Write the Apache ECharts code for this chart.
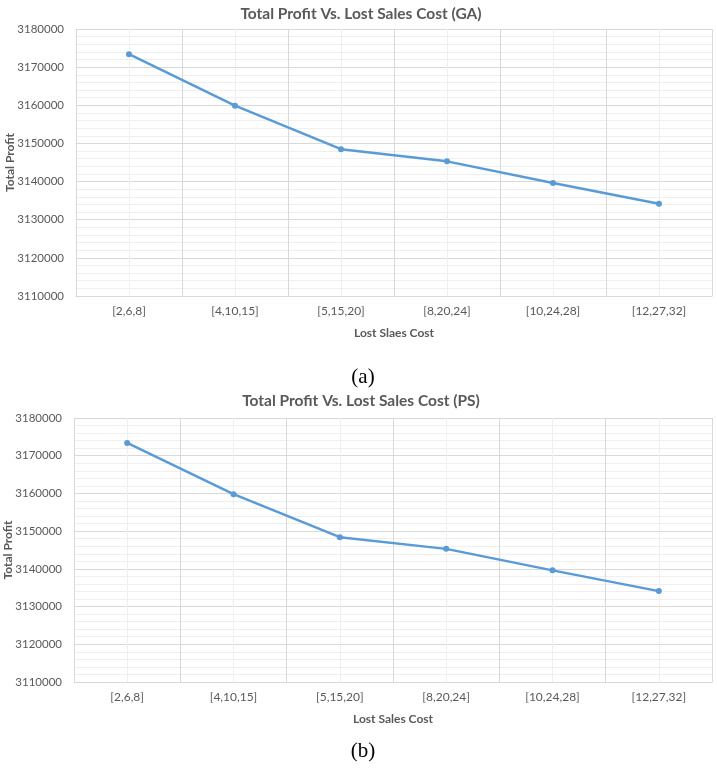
<!DOCTYPE html>
<html>
<head>
<meta charset="utf-8">
<script src="https://cdn.jsdelivr.net/npm/echarts@6/dist/echarts.min.js"></script>
<style>
html,body{margin:0;padding:0;background:#fff;}
#chart{width:717px;height:778px;}
</style>
</head>
<body>
<div id="chart"></div>
<script>
const categories = ['[2,6,8]', '[4,10,15]', '[5,15,20]', '[8,20,24]', '[10,24,28]', '[12,27,32]'];
const profitGA = [3173400, 3159900, 3148500, 3145300, 3139600, 3134200];
const profitPS = [3173400, 3159800, 3148400, 3145300, 3139600, 3134100];
const yTicks = { min: 3110000, max: 3180000, interval: 10000 };
const titles = ['Total Profit Vs. Lost Sales Cost (GA)', 'Total Profit Vs. Lost Sales Cost (PS)'];
const xNames = ['Lost Slaes Cost', 'Lost Sales Cost'];
const yName = 'Total Profit';
const captions = ['(a)', '(b)'];

const FONT = 'Lato';
const TXT = '#595959';
const LINE = '#5B9BD5';

const grids = [
  { left: 76, right: 5, top: 29, height: 267, outerBoundsMode: 'none', containLabel: false },
  { left: 74, right: 5, top: 418, height: 264, outerBoundsMode: 'none', containLabel: false }
];

const xAxes = [], yAxes = [], series = [];
[0, 1].forEach(i => {
  xAxes.push({
    type: 'category', gridIndex: i, data: categories, boundaryGap: true,
    axisLine: { show: true, lineStyle: { color: '#d9d9d9', width: 1 } },
    axisTick: { show: false },
    axisLabel: { color: TXT, fontFamily: FONT, fontSize: 12, margin: 9 },
    splitLine: { show: true, lineStyle: { color: '#d9d9d9', width: 1 } },
    name: xNames[i], nameLocation: 'middle', nameGap: 31, nameMoveOverlap: false,
    nameTextStyle: { color: TXT, fontFamily: FONT, fontSize: 12, fontWeight: 'bold' },
    z: 3
  });
  xAxes.push({
    type: 'value', gridIndex: i, min: 0, max: 12, interval: 1, show: true,
    axisLine: { show: false }, axisTick: { show: false }, axisLabel: { show: false },
    splitLine: { show: true, lineStyle: { color: '#efefef', width: 1 } },
    z: 1
  });
  yAxes.push({
    type: 'value', gridIndex: i, min: yTicks.min, max: yTicks.max, interval: yTicks.interval,
    axisLine: { show: false }, axisTick: { show: false },
    axisLabel: { color: TXT, fontFamily: FONT, fontSize: 11.5, margin: 12, formatter: v => String(v) },
    splitLine: { show: true, lineStyle: { color: '#d9d9d9', width: 1 } },
    minorTick: { show: false, splitNumber: 5 },
    minorSplitLine: { show: true, lineStyle: { color: '#efefef', width: 1 } },
    name: yName, nameLocation: 'middle', nameGap: 60, nameMoveOverlap: false,
    nameTextStyle: { color: TXT, fontFamily: FONT, fontSize: 12, fontWeight: 'bold' }
  });
  series.push({
    type: 'line', xAxisIndex: i * 2, yAxisIndex: i,
    data: i === 0 ? profitGA : profitPS,
    symbol: 'circle', symbolSize: 6,
    itemStyle: { color: LINE },
    lineStyle: { color: LINE, width: 2.5 },
    z: 5
  });
});

const chart = echarts.init(document.getElementById('chart'), null, { renderer: 'canvas' });
chart.setOption({
  backgroundColor: '#fff',
  animation: false,
  title: [
    { text: titles[0], left: 356, top: 1, textAlign: 'center',
      textStyle: { color: TXT, fontFamily: FONT, fontSize: 15.5, fontWeight: 'bold' } },
    { text: titles[1], left: 356, top: 388, textAlign: 'center',
      textStyle: { color: TXT, fontFamily: FONT, fontSize: 15.5, fontWeight: 'bold' } },
    { text: captions[0], left: 358, top: 362, textAlign: 'center',
      textStyle: { color: '#000', fontFamily: 'Liberation Serif', fontSize: 21, fontWeight: 'normal' } },
    { text: captions[1], left: 358, top: 736, textAlign: 'center',
      textStyle: { color: '#000', fontFamily: 'Liberation Serif', fontSize: 21, fontWeight: 'normal' } }
  ],
  grid: grids,
  xAxis: xAxes,
  yAxis: yAxes,
  series: series
});
</script>
</body>
</html>
